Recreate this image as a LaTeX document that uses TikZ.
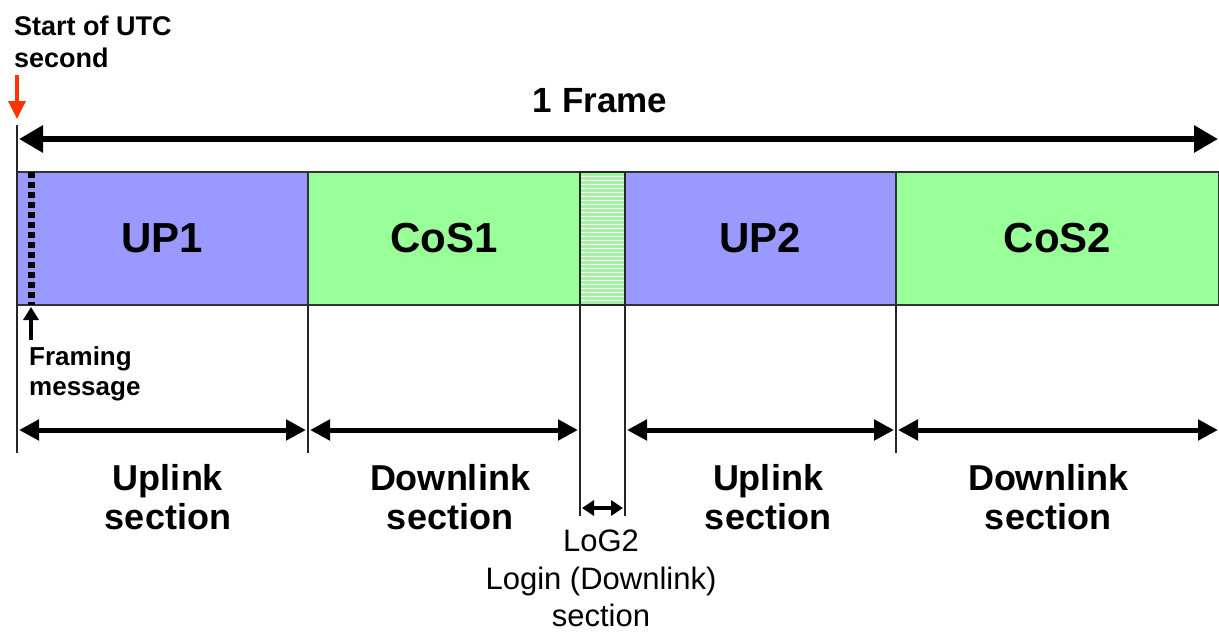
\documentclass[tikz,border=0pt]{standalone}
\usepackage{fontspec}
\setmainfont{Liberation Sans}
\usetikzlibrary{arrows.meta}
\definecolor{upblue}{HTML}{9999FF}
\definecolor{cosgreen}{HTML}{99FF99}
\definecolor{loggreen}{HTML}{A0F5A0}
\definecolor{utcred}{HTML}{FF3300}
\begin{document}
\begin{tikzpicture}[x=1pt,y=-1pt,
  segbox/.style={draw=black!80, line width=1.5pt, outer sep=0pt, inner sep=0pt,
    minimum height=133pt, anchor=north west,
    font=\fontsize{42}{48}\selectfont\bfseries},
  vline/.style={draw=black!85, line width=1.5pt},
  framearrow/.style={line width=6pt, {Triangle[length=24pt,width=26pt]}-{Triangle[length=24pt,width=26pt]}},
  secarrow/.style={line width=5pt, {Triangle[length=20pt,width=20pt]}-{Triangle[length=20pt,width=20pt]}},
  smallarrow/.style={line width=3.5pt, {Triangle[length=12pt,width=15pt]}-{Triangle[length=12pt,width=15pt]}},
  seclabel/.style={font=\fontsize{36}{39}\selectfont\bfseries, align=center, inner sep=0pt, anchor=north},
  note/.style={font=\fontsize{27}{32}\selectfont\bfseries, align=left, inner sep=0pt, anchor=north west},
]
\useasboundingbox (0,0) rectangle (1219,635);

% segments of the frame
\node[segbox, fill=upblue, minimum width=291pt] (up1) at (17,172) {UP1};
\node[segbox, fill=cosgreen, minimum width=272pt] (cos1) at (308,172) {CoS1};
\node[segbox, fill=loggreen, minimum width=45pt,
  path picture={\foreach \i in {1,...,34}
    \draw[white, line width=0.9pt]
      ([yshift=-\i*4pt]path picture bounding box.north west) --
      ([yshift=-\i*4pt]path picture bounding box.north east);}] (log) at (580,172) {};
\node[segbox, fill=upblue, minimum width=271pt] (up2) at (625,172) {UP2};
\node[segbox, fill=cosgreen, minimum width=323pt] (cos2) at (896,172) {CoS2};
% redraw LoG border over hatch
\draw[vline] (log.north west) rectangle (log.south east);

% framing message dotted line
\coordinate (fmtop) at (31,172);
\coordinate (fmbot) at (31,305);
\draw[line width=7pt, dash pattern=on 6pt off 4pt] (fmtop) -- (fmbot);
\coordinate (fmstart) at (31,340);
\coordinate (fmend) at (31,307);
\draw[line width=3.5pt, -{Triangle[length=13pt,width=15pt]}] (fmstart) -- (fmend);
\node[note, font=\fontsize{26}{30}\selectfont\bfseries] (fmtext) at (29,346) {Framing\\message};

% start of UTC second
\node[note] (utc) at (14,16) {Start of UTC\\second};
\coordinate (redstart) at (17,75);
\coordinate (redend) at (17,119);
\draw[utcred, line width=3.5pt, -{Triangle[length=18pt,width=17pt]}] (redstart) -- (redend);

% vertical boundary lines
\coordinate (l0top) at (17,125);
\coordinate (l0bot) at (17,453);
\draw[vline] (l0top) -- (l0bot);
\coordinate (l1bot) at (308,453);
\coordinate (l2bot) at (580,516);
\coordinate (l3bot) at (625,516);
\coordinate (l4bot) at (896,453);
\draw[vline] (up1.south east) -- (l1bot);
\draw[vline] (log.south west) -- (l2bot);
\draw[vline] (log.south east) -- (l3bot);
\draw[vline] (cos2.south west) -- (l4bot);

% 1 frame arrow
\coordinate (fa) at (19,139);
\coordinate (fb) at (1218,139);
\draw[framearrow] (fa) -- (fb);
\node[font=\fontsize{35}{40}\selectfont\bfseries, anchor=base] (frame) at (600,112) {1 Frame};

% section arrows
\coordinate (s0) at (19,430);
\coordinate (s1a) at (306,430);
\coordinate (s1b) at (310,430);
\coordinate (s2a) at (578,430);
\coordinate (s3b) at (627,430);
\coordinate (s4a) at (894,430);
\coordinate (s4b) at (898,430);
\coordinate (s5) at (1218,430);
\draw[secarrow] (s0) -- (s1a);
\draw[secarrow] (s1b) -- (s2a);
\draw[secarrow] (s3b) -- (s4a);
\draw[secarrow] (s4b) -- (s5);
\coordinate (lga) at (582,508);
\coordinate (lgb) at (623,508);
\draw[smallarrow] (lga) -- (lgb);

% section labels
\node[seclabel] (ul1) at (168,464) {Uplink\\section};
\node[seclabel] (dl1) at (450,464) {Downlink\\section};
\node[seclabel] (ul2) at (768,464) {Uplink\\section};
\node[seclabel] (dl2) at (1048,464) {Downlink\\section};
\node[font=\fontsize{31}{37.5}\selectfont, align=center, inner sep=0pt, anchor=north] (logtext) at (601,530) {LoG2\\Login (Downlink)\\section};
\end{tikzpicture}
\end{document}
